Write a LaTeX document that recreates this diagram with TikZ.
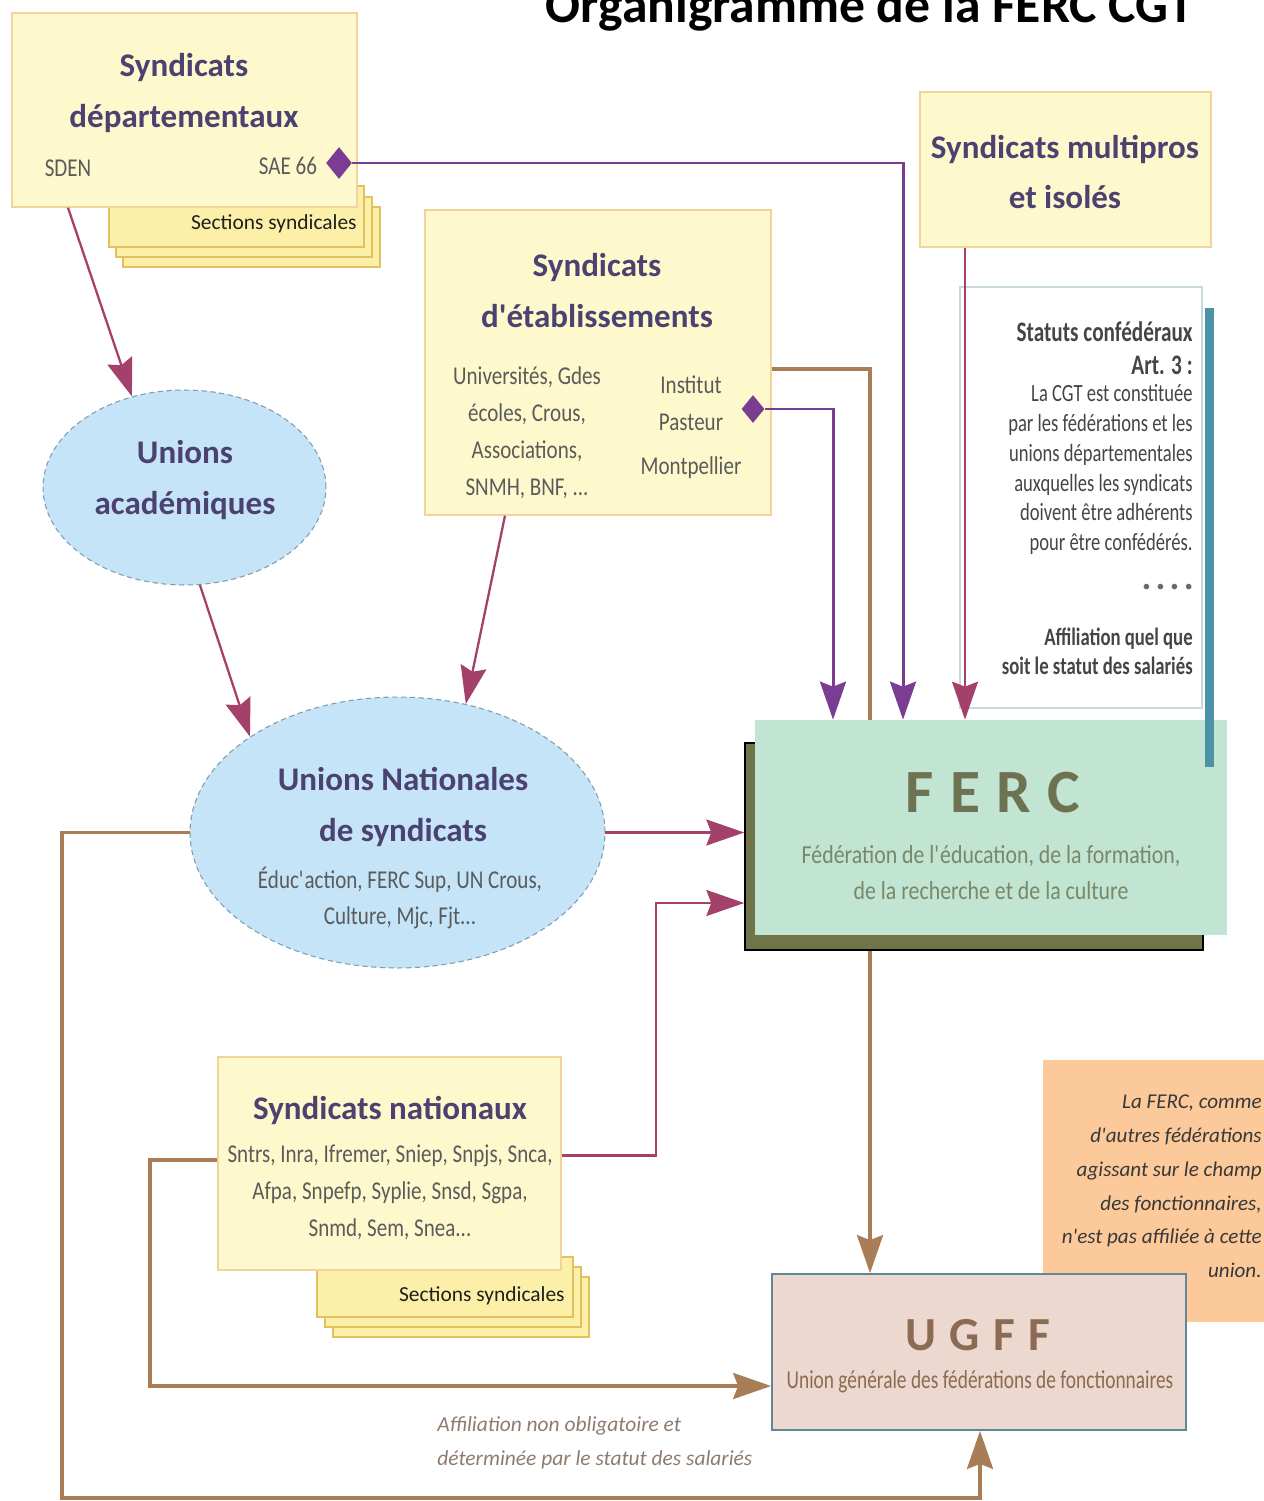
\documentclass[tikz,border=0pt]{standalone}
\usepackage{fontspec}
\setmainfont{Carlito}
\newfontfamily\cnda[FakeStretch=0.82]{Carlito}
\newfontfamily\cndb[FakeStretch=0.75]{Carlito}
\newfontfamily\cndc[FakeStretch=0.84]{Carlito}
\usetikzlibrary{arrows.meta,shapes.geometric,fit,calc,backgrounds}

\definecolor{cYel}{HTML}{FEF9CC}
\definecolor{cYelB}{HTML}{F0D49C}
\definecolor{cSec}{HTML}{FCEFA8}
\definecolor{cSecB}{HTML}{E2C060}
\definecolor{cTitle}{HTML}{4B4271}
\definecolor{cGray}{HTML}{5B5B5B}
\definecolor{cBlue}{HTML}{C5E4F7}
\definecolor{cBlueB}{HTML}{7F9CB0}
\definecolor{cRasp}{HTML}{A3416B}
\definecolor{cPurp}{HTML}{7B3C93}
\definecolor{cBrn}{HTML}{A97D55}
\definecolor{cGreen}{HTML}{C2E4D3}
\definecolor{cOlive}{HTML}{6F7449}
\definecolor{cFercT}{HTML}{6D7352}
\definecolor{cFercS}{HTML}{788868}
\definecolor{cUgff}{HTML}{ECD8CE}
\definecolor{cUgffB}{HTML}{5F8796}
\definecolor{cUgffT}{HTML}{8B6B54}
\definecolor{cOrange}{HTML}{FCCA9A}
\definecolor{cTeal}{HTML}{4C93A8}
\definecolor{cStatB}{HTML}{C8D8DC}
\definecolor{cStatT}{HTML}{454545}
\definecolor{cNote}{HTML}{8F7A70}

\tikzset{
  box/.style={draw=cYelB, fill=cYel, line width=0.8pt, inner sep=0pt},
  secbox/.style={draw=cSecB, fill=cSec, line width=0.8pt, inner sep=0pt},
  ell/.style={ellipse, draw=cBlueB, dash pattern=on 3pt off 2pt, fill=cBlue, line width=0.6pt, inner sep=0pt},
  ttl/.style={font=\bfseries\fontsize{18.8}{29}\selectfont, text=cTitle, align=center, inner sep=0pt},
  sm/.style={font=\cnda\fontsize{14.6}{21}\selectfont, text=cGray, align=center, inner sep=0pt},
  secT/.style={font=\fontsize{12.2}{14}\selectfont, text=black!88, inner sep=0pt, anchor=east},
  dia/.style={diamond, fill=cPurp, inner sep=0pt},
  statA/.style={font=\cndb\bfseries\fontsize{16.1}{18.8}\selectfont, text=cStatT, align=right, inner sep=0pt, anchor=east},
  statR/.style={font=\cndb\fontsize{14.1}{17}\selectfont, text=cStatT, align=right, inner sep=0pt, anchor=east},
  statC/.style={font=\cndb\bfseries\fontsize{14.2}{16.5}\selectfont, text=cStatT, align=right, inner sep=0pt, anchor=east},
  tip/.style={-{Stealth[length=0.76cm,width=0.52cm,inset=0.1cm]}},
  rasp/.style={draw=cRasp, line width=1.3pt, tip},
  purp/.style={draw=cPurp, line width=1.7pt, tip},
  brn/.style={draw=cBrn, line width=2pt, tip},
}

\begin{document}
\begin{tikzpicture}[x=0.02cm,y=-0.02cm]
\useasboundingbox (0,0) rectangle (1264,1501);
\clip (0,0) rectangle (1264,1501);

% title
\node[font=\bfseries\fontsize{29.4}{32}\selectfont, anchor=base, inner sep=0pt] (title) at (870,22) {Organigramme de la FERC CGT};

% Syndicats departementaux
\node[secbox, fit={(123,207) (380,267)}] (sdS3) {};
\node[secbox, fit={(116,197) (372,257)}] (sdS2) {};
\node[secbox, fit={(109,186) (364,247)}] (sdS1) {};
\node[box, fit={(12,13) (357,207)}] (sd) {};
\node[secT] (sdST) at (357,224) {Sections syndicales};
\node[ttl] (sdT) at (184,93) {Syndicats\\départementaux};
\node[sm] (sden) at (68,168) {SDEN};
\node[sm] (sae) at (288,166) {SAE 66};
\node[dia, minimum width=0.52cm, minimum height=0.64cm] (d1) at (339,163) {};

% Unions academiques
\node[ell, minimum width=5.66cm, minimum height=3.9cm] (ua) at (184.5,487.5) {};
\node[ttl] (uaT) at (185,480) {Unions\\académiques};

% Syndicats d'etablissements
\node[box, fit={(425,210) (771,515)}] (etab) {};
\node[ttl] (etabT) at (597,291) {Syndicats\\d\textquotesingle établissements};
\node[sm] (etabL) at (527,432.5) {Universités, Gdes\\écoles, Crous,\\Associations,\\SNMH, BNF, ...};
\node[sm] (etabR) at (691,403.5) {Institut\\Pasteur};
\node[sm] (etabM) at (691,468) {Montpellier};
\node[dia, minimum width=0.46cm, minimum height=0.56cm] (d2) at (753,409) {};

% Syndicats multipros
\node[box, fit={(920,92) (1211,247)}] (multi) {};
\node[ttl] (multiT) at (1065,172) {Syndicats multipros\\et isolés};

% Statuts
\node[draw=cStatB, line width=0.6pt, fill=white, inner sep=0pt, fit={(960,287) (1202,708)}] (stat) {};
\node[statA] (statA) at (1193,348.5) {Statuts confédéraux\\Art. 3 :};
\node[statR] (statB) at (1193,469.5) {La CGT est constituée\\par les fédérations et les\\unions départementales\\auxquelles les syndicats\\doivent être adhérents\\pour être confédérés.};
\node[statR, font=\fontsize{9}{10}\selectfont, text=cStatT!80] (statD) at (1193,588) {•\hspace{3.5pt}•\hspace{3.5pt}•\hspace{3.5pt}•};
\node[statC] (statC) at (1193,651.5) {Affiliation quel que\\soit le statut des salariés};

% FERC
\node[draw=black, line width=0.8pt, fill=cOlive, inner sep=0pt, fit={(745,743) (1203,950)}] (fercsh) {};
\node[fill=cGreen, inner sep=0pt, fit={(755,720) (1227,935)}] (ferc) {};
\node[font=\bfseries\fontsize{35}{40}\selectfont, text=cFercT, inner sep=0pt] (fercT) at (993,793) {F\hspace{9.4pt}E\hspace{9.4pt}R\hspace{9.4pt}C};
\node[font=\cndc\fontsize{14.8}{20.5}\selectfont, text=cFercS, align=center, inner sep=0pt] (fercS) at (991,873) {Fédération de l\textquotesingle éducation, de la formation,\\de la recherche et de la culture};
\node[fill=cTeal, inner sep=0pt, fit={(1205,308) (1214,767)}] (bar) {};

% Unions nationales
\node[ell, minimum width=8.3cm, minimum height=5.42cm] (un) at (397.5,832.5) {};
\node[ttl] (unT) at (403,807) {Unions Nationales\\de syndicats};
\node[sm, font=\cnda\fontsize{14.6}{20.5}\selectfont] (unS) at (400,898) {Éduc\textquotesingle action, FERC Sup, UN Crous,\\Culture, Mjc, Fjt...};

% Syndicats nationaux
\node[secbox, fit={(333,1277) (589,1337)}] (snS3) {};
\node[secbox, fit={(325,1267) (581,1327)}] (snS2) {};
\node[secbox, fit={(317,1257) (573,1317)}] (snS1) {};
\node[box, fit={(218,1057) (561,1270)}] (sn) {};
\node[secT] (snST) at (565,1296) {Sections syndicales};
\node[ttl] (snT) at (390,1110) {Syndicats nationaux};
\node[sm] (snL) at (390,1192) {Sntrs, Inra, Ifremer, Sniep, Snpjs, Snca,\\Afpa, Snpefp, Syplie, Snsd, Sgpa,\\Snmd, Sem, Snea...};

% Orange note
\node[fill=cOrange, inner sep=0pt, fit={(1043,1060) (1270,1322)}] (note) {};
\node[font=\itshape\fontsize{12}{19.2}\selectfont, text=black!78, align=right, anchor=east, inner sep=0pt] (noteT) at (1262,1186.5) {La FERC, comme\\d\textquotesingle autres fédérations\\agissant sur le champ\\des fonctionnaires,\\n\textquotesingle est pas affiliée à cette\\union.};

% UGFF
\node[draw=cUgffB, line width=1pt, fill=cUgff, inner sep=0pt, fit={(772,1274) (1186,1430)}] (ugff) {};
\node[font=\bfseries\fontsize{27}{30}\selectfont, text=cUgffT, inner sep=0pt] (ugffT) at (978,1335) {U\hspace{7.7pt}G\hspace{7.7pt}F\hspace{7.7pt}F};
\node[font=\cndb\fontsize{14.7}{18}\selectfont, text=cUgffT, inner sep=0pt] (ugffS) at (980,1382) {Union générale des fédérations de fonctionnaires};

% bottom label
\node[font=\itshape\fontsize{12.2}{19.3}\selectfont, text=cNote, align=left, anchor=west, inner sep=0pt] (lbl) at (437,1443) {Affiliation non obligatoire et\\déterminée par le statut des salariés};

% connectors
\begin{pgfonlayer}{background}
\draw[brn] (etab.east |- 0,369) -| (870,0 |- ugff.north);
\end{pgfonlayer}
\draw[rasp] (68,0 |- sd.south) -- (ua.120);
\draw[rasp] (ua.-81) -- (un.147);
\draw[rasp] (505,0 |- etab.south) -- (un.62);
\draw[rasp] (un.east) -- (un.east -| fercsh.west);
\draw[rasp] ($(sn.east)+(0,-8)$) -- ++(94,0) |- (fercsh.west |- 0,903);
\draw[rasp] (965,0 |- multi.south) -- (965,0 |- ferc.north);
\draw[purp] (d1.east) -| (903,0 |- ferc.north);
\draw[purp] (d2.east) -| (833,0 |- ferc.north);
\draw[brn] (un.west) -| (62,1498) -| (980,0 |- ugff.south);
\draw[brn] (sn.west |- 0,1160) -| (150,1386) -- (ugff.west |- 0,1386);
\end{tikzpicture}
\end{document}
